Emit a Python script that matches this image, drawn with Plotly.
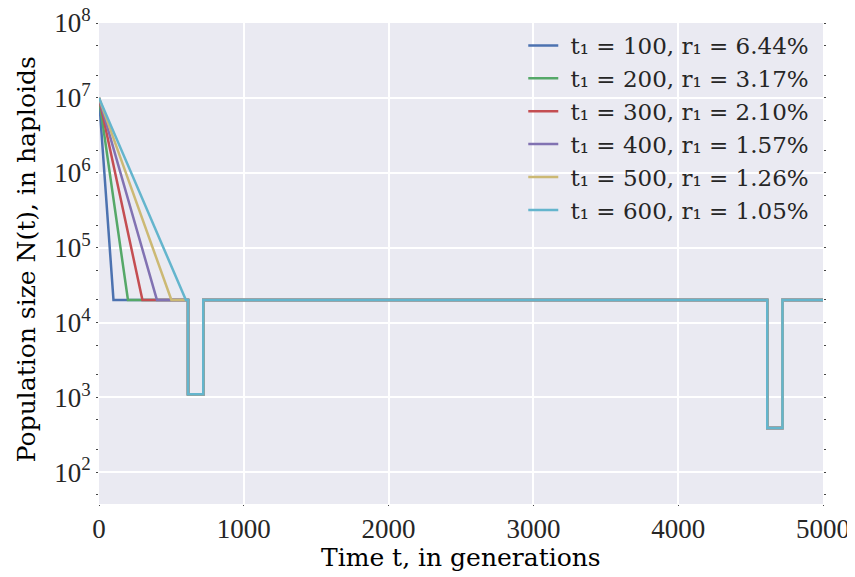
import plotly.graph_objects as go

# ---- data ----
t1_values = [100, 200, 300, 400, 500, 600]
r1_labels = ["6.44%", "3.17%", "2.10%", "1.57%", "1.26%", "1.05%"]
colors = ["#4C72B0", "#55A868", "#C44E52", "#8172B2", "#CCB974", "#64B5CD"]

N0 = 1.0e7            # initial size at t = 0
N1 = 2.0e4            # size reached at t1, kept afterwards
bottleneck_times = [(615, 720), (4615, 4720)]
bottleneck_sizes = [1100, 390]
t_end = 5000

y_tickvals = [1e2, 1e3, 1e4, 1e5, 1e6, 1e7, 1e8]
y_ticktext = ["10<sup>%d</sup>" % k for k in range(2, 9)]
x_tickvals = [0, 1000, 2000, 3000, 4000, 5000]

x_title = "Time t, in generations"
y_title = "Population size N(t), in haploids"

fig = go.Figure()
for t1, r1, c in zip(t1_values, r1_labels, colors):
    xs = [0, t1]
    ys = [N0, N1]
    for (a, b), nb in zip(bottleneck_times, bottleneck_sizes):
        xs += [a, a, b, b]
        ys += [N1, nb, nb, N1]
    xs.append(t_end)
    ys.append(N1)
    fig.add_trace(go.Scatter(
        x=xs, y=ys, mode="lines",
        line=dict(color=c, width=2.5),
        name="\u00a0t\u2081 = %d, r\u2081 = %s" % (t1, r1),
    ))

tick_font = dict(family="Liberation Serif", size=27, color="#262626")
title_font = dict(family="DejaVu Serif", size=25, color="#000000")

# the page adds an 8px body margin, so the figure is 8px smaller each way
fig.update_layout(
    width=847, height=569,
    margin=dict(l=91, r=32, t=15, b=73),
    paper_bgcolor="white",
    plot_bgcolor="#EAEAF2",
    showlegend=True,
    legend=dict(
        x=0.586, y=0.998, xanchor="left", yanchor="top",
        bgcolor="rgba(0,0,0,0)",
        font=dict(family="DejaVu Serif", size=23, color="#262626"),
        tracegroupgap=0,
    ),
    xaxis=dict(
        range=[0, 5000],
        tickvals=x_tickvals,
        tickfont=tick_font,
        ticklabeloverflow="allow",
        showgrid=True, gridcolor="white", gridwidth=1.5,
        zeroline=False, showline=False, automargin=False,
        ticks="outside", ticklen=1, tickcolor="#444",
    ),
    yaxis=dict(
        type="log",
        range=[1.576, 8.0],
        tickvals=y_tickvals,
        ticktext=y_ticktext,
        tickfont=tick_font,
        ticklabeloverflow="allow",
        showgrid=True, gridcolor="white", gridwidth=1.5,
        zeroline=False, showline=False, automargin=False,
        ticks="outside", ticklen=2, tickcolor="#444", mirror="ticks",
        minor=dict(ticks="outside", ticklen=2, tickcolor="#444", showgrid=False),
    ),
    annotations=[
        dict(text=x_title, font=title_font, xref="paper", yref="paper",
             x=0.5, y=-0.112, xanchor="center", yanchor="middle", showarrow=False),
        dict(text=y_title, font=title_font, xref="paper", yref="paper",
             x=-0.1008, y=0.509, xanchor="center", yanchor="middle",
             textangle=-90, showarrow=False),
    ],
)

fig.write_html("out.html")
